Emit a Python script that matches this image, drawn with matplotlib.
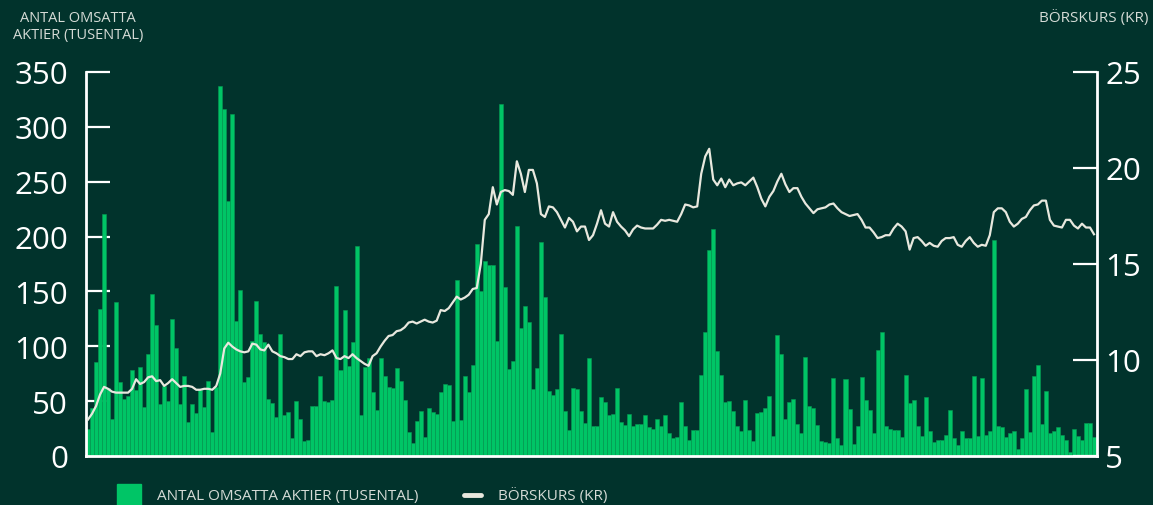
import matplotlib
matplotlib.use("Agg")
import matplotlib.pyplot as plt
from matplotlib.patches import Rectangle
from matplotlib.lines import Line2D

# --- data ---
volume = [
    25, 44, 86, 134, 221, 62, 34, 140, 67, 52, 55, 78, 60, 81, 45, 93, 148, 119, 47, 64,
    50, 125, 98, 47, 73, 31, 47, 39, 60, 45, 68, 22, 63, 337, 316, 232, 312, 123, 151, 67,
    72, 105, 141, 111, 104, 52, 48, 36, 111, 37, 40, 16, 50, 34, 14, 15, 46, 46, 73, 50,
    49, 51, 155, 78, 133, 82, 104, 191, 37, 81, 89, 58, 42, 89, 73, 63, 62, 80, 68, 51,
    22, 12, 32, 41, 17, 44, 40, 38, 58, 66, 65, 32, 160, 33, 73, 58, 83, 193, 150, 178,
    174, 174, 105, 321, 154, 79, 87, 210, 117, 137, 122, 61, 80, 195, 145, 59, 56, 61, 111, 41,
    24, 62, 61, 41, 30, 89, 27, 27, 54, 49, 37, 38, 62, 31, 28, 38, 27, 29, 29, 37,
    26, 25, 34, 27, 37, 21, 16, 17, 49, 27, 15, 24, 24, 74, 113, 188, 207, 96, 74, 49,
    50, 41, 27, 23, 51, 24, 14, 39, 40, 44, 55, 18, 110, 93, 34, 49, 52, 29, 21, 90,
    46, 44, 28, 14, 13, 12, 71, 16, 10, 70, 43, 11, 27, 72, 51, 42, 21, 97, 113, 27,
    25, 24, 24, 17, 74, 48, 51, 27, 18, 54, 23, 13, 15, 15, 19, 42, 16, 10, 23, 16,
    16, 73, 18, 71, 19, 23, 197, 27, 26, 17, 21, 23, 6, 16, 61, 22, 73, 83, 29, 59,
    21, 23, 26, 19, 15, 4, 25, 18, 15, 30, 30, 17,
]

price = [
    6.9, 7.2, 7.6, 8.2, 8.6, 8.5, 8.35, 8.3, 8.3, 8.3, 8.3, 8.5, 9.0, 8.75, 8.85, 9.1, 9.15, 8.9, 8.95, 8.65,
    8.8, 9.0, 8.8, 8.6, 8.65, 8.65, 8.6, 8.45, 8.45, 8.5, 8.5, 8.45, 8.65, 9.3, 10.6, 10.9, 10.7, 10.55, 10.45, 10.4,
    10.45, 10.85, 10.8, 10.55, 10.5, 10.8, 10.45, 10.35, 10.2, 10.15, 10.05, 10.05, 10.3, 10.2, 10.4, 10.45, 10.45, 10.2, 10.3, 10.25,
    10.35, 10.5, 10.1, 10.05, 10.2, 10.1, 10.3, 10.1, 9.95, 9.8, 9.7, 10.2, 10.35, 10.7, 11.0, 11.25, 11.3, 11.5, 11.55, 11.7,
    11.95, 12.0, 11.9, 12.0, 12.1, 12.0, 11.95, 12.05, 12.6, 12.55, 12.7, 13.0, 13.3, 13.15, 13.25, 13.4, 13.7, 13.75, 15.0, 17.3,
    17.6, 19.0, 18.1, 18.75, 18.85, 18.8, 18.6, 20.35, 19.7, 18.75, 19.9, 19.9, 19.2, 17.6, 17.45, 18.0, 17.95, 17.7, 17.3, 16.9,
    17.4, 17.2, 16.7, 16.95, 16.95, 16.25, 16.5, 17.1, 17.8, 17.1, 16.95, 17.7, 17.2, 16.95, 16.75, 16.45, 16.8, 17.0, 16.9, 16.85,
    16.85, 16.85, 17.05, 17.3, 17.25, 17.3, 17.25, 17.2, 17.6, 18.1, 18.05, 17.95, 18.0, 19.7, 20.6, 21.0, 19.4, 19.1, 19.45, 19.0,
    19.4, 19.1, 19.2, 19.25, 19.1, 19.3, 19.5, 19.0, 18.4, 18.0, 18.5, 18.8, 19.3, 19.7, 19.15, 18.75, 18.95, 18.95, 18.5, 18.15,
    17.9, 17.65, 17.85, 17.9, 17.95, 18.1, 18.15, 17.9, 17.7, 17.6, 17.5, 17.55, 17.6, 17.3, 16.9, 16.9, 16.65, 16.35, 16.4, 16.5,
    16.5, 16.85, 17.1, 16.95, 16.7, 15.75, 16.35, 16.4, 16.2, 15.95, 16.1, 15.95, 15.9, 16.2, 16.35, 16.35, 16.4, 16.0, 15.9, 16.2,
    16.4, 16.1, 15.9, 16.0, 15.95, 16.5, 17.7, 17.9, 17.9, 17.7, 17.2, 16.95, 17.1, 17.35, 17.45, 17.8, 18.05, 18.1, 18.3, 18.3,
    17.3, 17.0, 16.95, 16.9, 17.3, 17.3, 17.0, 16.85, 17.1, 16.9, 16.9, 16.55,
]

left_ticks = [0, 50, 100, 150, 200, 250, 300, 350]
right_ticks = [5, 10, 15, 20, 25]

left_title = "ANTAL OMSATTA\nAKTIER (TUSENTAL)"
right_title = "BÖRSKURS (KR)"
legend_bar = "ANTAL OMSATTA AKTIER (TUSENTAL)"
legend_line = "BÖRSKURS (KR)"

# --- style ---
BG = "#01332c"
BAR = "#00c566"
BAR_EDGE = "#079a52"
LINE = "#e8e8de"
WHITE = "#ffffff"
TITLE_C = "#d5dbd6"

plt.rcParams['font.family'] = ['Open Sans', 'DejaVu Sans']

fig = plt.figure(figsize=(11.53, 5.06), dpi=100, facecolor=BG)
ax = fig.add_axes([86 / 1153, 49 / 506, 1011 / 1153, 384 / 506])
ax.set_facecolor(BG)

x = list(range(len(volume)))
ax.bar(x, volume, width=1.0, color=BAR, edgecolor=BAR_EDGE, linewidth=0.4, zorder=2)
ax.set_xlim(-0.5, len(volume) - 0.25)
ax.set_ylim(0, 350)
ax.set_yticks(left_ticks)
ax.set_xticks([])

ax2 = ax.twinx()
ax2.plot(x, price, color=LINE, lw=1.6, zorder=3)
ax2.set_ylim(5, 25)
ax2.set_yticks(right_ticks)

for a in (ax, ax2):
    for s in a.spines.values():
        s.set_color(WHITE)
        s.set_linewidth(2)
    a.spines['top'].set_visible(False)

ax.spines['right'].set_visible(False)
ax2.spines['left'].set_visible(False)
ax2.spines['bottom'].set_visible(False)

ax.tick_params(axis='y', direction='in', length=17, width=1.6, color=WHITE,
               labelcolor=WHITE, labelsize=22.5, pad=13)
ax2.tick_params(axis='y', direction='in', length=17, width=1.6, color=WHITE,
                labelcolor=WHITE, labelsize=22.5, pad=6)

# axis titles
fig.text(78 / 1153, 1 - 27 / 506, left_title, ha='center', va='center',
         fontsize=10.5, color=TITLE_C, linespacing=1.25)
fig.text(1148 / 1153, 1 - 18 / 506, right_title, ha='right', va='center',
         fontsize=11, color=TITLE_C)

# legend drawn by hand at the bottom edge
fig.patches.append(Rectangle((117 / 1153, -0.01), 24 / 1153, 0.052,
                             transform=fig.transFigure, color=BAR, figure=fig))
fig.text(157 / 1153, 9 / 506, legend_bar, ha='left', va='center',
         fontsize=11, color=TITLE_C)
fig.lines.append(Line2D([464 / 1153, 481 / 1153], [10 / 506, 10 / 506],
                        transform=fig.transFigure, color=LINE, lw=3.5,
                        solid_capstyle='round', figure=fig))
fig.text(498 / 1153, 10 / 506, legend_line, ha='left', va='center',
         fontsize=11, color=TITLE_C)

fig.savefig("out.png", dpi=100, facecolor=BG)
